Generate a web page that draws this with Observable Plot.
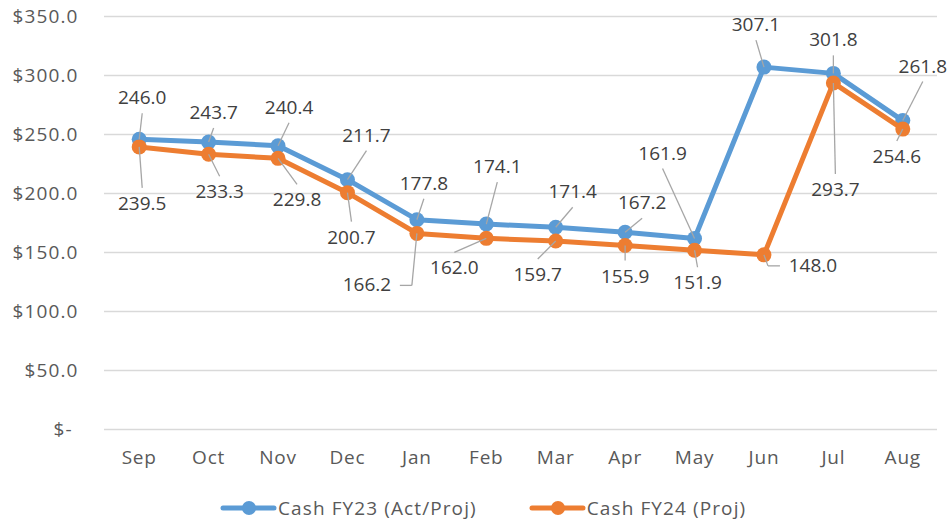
<!DOCTYPE html>
<html>
<head>
<meta charset="utf-8">
<script src="https://cdn.jsdelivr.net/npm/d3@7"></script>
<script src="https://cdn.jsdelivr.net/npm/@observablehq/plot@0.6"></script>
<style>
  html, body { margin: 0; padding: 0; background: #fff; }
  #chart { width: 949px; }
  #chart g[aria-label="y-axis tick label"] { letter-spacing: 1.1px; }
  #chart g[aria-label="x-axis tick label"] { letter-spacing: 0.8px; }
  .legend { display: flex; justify-content: flex-start; align-items: center; gap: 52px;
    font-family: "Open Sans", sans-serif; font-size: 19px; letter-spacing: 1.1px; color: #595959;
    padding-top: 15px; padding-left: 220px; }
  .legend .item { display: flex; align-items: center; }
  .legend svg { margin-right: 1px; }
</style>
</head>
<body>
<div id="chart"></div>
<script>
// ---- data ----
const months = ["Sep","Oct","Nov","Dec","Jan","Feb","Mar","Apr","May","Jun","Jul","Aug"];
const cashFY23 = [246.0,243.7,240.4,211.7,177.8,174.1,171.4,167.2,161.9,307.1,301.8,261.8];
const cashFY24 = [239.5,233.3,229.8,200.7,166.2,162.0,159.7,155.9,151.9,148.0,293.7,254.6];
const seriesNames = ["Cash FY23 (Act/Proj)", "Cash FY24 (Proj)"];
const yTicks = [0,50,100,150,200,250,300,350];

// ---- layout (pixel offsets of data labels from their points) ----
const labelOffsetsFY23 = [[3,-41],[5,-29],[11,-38],[19,-44],[7,-36],[11,-57],[17,-35],[17,-29],[-32,-85],[-8,-42],[0,-33],[20,-54]];
const labelOffsetsFY24 = [[3,57],[11,38],[19,42],[4,45],[-50,52],[-32,30],[-18,34],[0,31],[3,33],[49,11],[2,107],[-6,28]];
const elbowLeft = {"1-4": true};   // label to the left, horizontal leader
const elbowRight = {"1-9": true};  // label to the right, horizontal leader

const colors = ["#5B9BD5", "#ED7D31"];
const W = 949, H = 480, ML = 104, MR = 12, MT = 16, MB = 51;
const kx = (W - ML - MR) / 12;
const ky = (H - MT - MB) / 350;

const seriesValues = [cashFY23, cashFY24];
const offsets = [labelOffsetsFY23, labelOffsetsFY24];

const rows = [];
seriesValues.forEach((vals, s) => vals.forEach((v, i) => rows.push({s, i, v, name: seriesNames[s]})));

const labels = [];
const leaders = [];
rows.forEach(d => {
  const [dx, dy] = offsets[d.s][d.i];
  const lx = d.i + dx / kx, ly = d.v - dy / ky;
  labels.push({x: lx, y: ly, text: d.v.toFixed(1)});
  const key = d.s + "-" + d.i;
  if (elbowLeft[key]) {
    const sx = d.i + (dx + 33) / kx, ex = d.i - 5 / kx;
    leaders.push({x1: sx, y1: ly, x2: ex, y2: ly});
    leaders.push({x1: ex, y1: ly, x2: d.i, y2: d.v});
  } else if (elbowRight[key]) {
    const sx = d.i + (dx - 33) / kx, ex = d.i + 4 / kx;
    leaders.push({x1: sx, y1: ly, x2: ex, y2: ly});
    leaders.push({x1: ex, y1: ly, x2: d.i, y2: d.v});
  } else {
    const sy = dy < 0 ? ly - 15 / ky : ly + 16 / ky;
    leaders.push({x1: lx, y1: sy, x2: d.i, y2: d.v});
  }
});

const fy = v => v === 0 ? "$-\u2005" : "$" + v.toFixed(1);

const marks = [
  Plot.ruleY(yTicks, {stroke: "#d9d9d9", strokeWidth: 1.5}),
  Plot.axisY(yTicks, {tickSize: 0, tickPadding: 26, tickFormat: fy, fill: "#595959", fontSize: 19, label: null}),
  Plot.axisX(d3.range(12), {tickSize: 0, tickPadding: 21, tickFormat: i => months[i], fill: "#595959", fontSize: 19, label: null})
];
seriesValues.forEach((vals, s) => {
  const data = rows.filter(d => d.s === s);
  marks.push(Plot.line(data, {x: "i", y: "v", stroke: colors[s], strokeWidth: 5, strokeLinejoin: "round"}));
  marks.push(Plot.dot(data, {x: "i", y: "v", r: 7.5, fill: colors[s], stroke: "none"}));
});
marks.push(Plot.link(leaders, {x1: "x1", y1: "y1", x2: "x2", y2: "y2", stroke: "#a6a6a6", strokeWidth: 1.3}));
marks.push(Plot.text(labels, {x: "x", y: "y", text: "text", fill: "#404040", fontSize: 19}));

const chart = Plot.plot({
  width: W, height: H,
  marginLeft: ML, marginRight: MR, marginTop: MT, marginBottom: MB,
  x: {type: "linear", domain: [-0.5, 11.5]},
  y: {domain: [0, 350]},
  style: {fontFamily: "Open Sans", fontSize: "19px", background: "#fff", overflow: "visible"},
  marks
});
document.getElementById("chart").appendChild(chart);

// legend
const legend = document.createElement("div");
legend.className = "legend";
seriesNames.forEach((n, s) => {
  const item = document.createElement("div");
  item.className = "item";
  item.innerHTML = `<svg width="57" height="18"><line x1="3" y1="9" x2="54" y2="9" stroke="${colors[s]}" stroke-width="5" stroke-linecap="round"/><circle cx="29" cy="9" r="7" fill="${colors[s]}"/></svg><span>${n}</span>`;
  legend.appendChild(item);
});
document.body.appendChild(legend);
</script>
</body>
</html>
